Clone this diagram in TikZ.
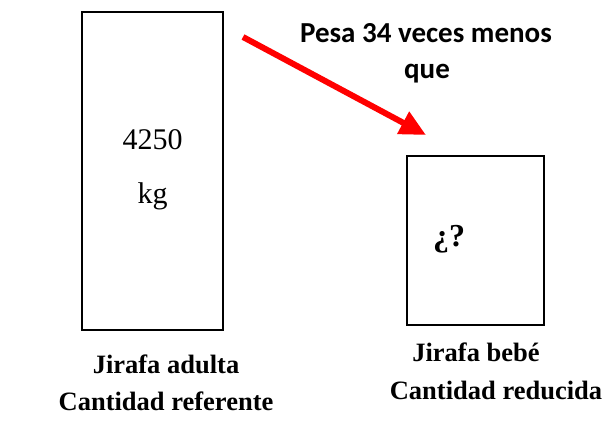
\documentclass[tikz,border=0pt]{standalone}
\usepackage{fontspec}
\setmainfont{Liberation Serif}
\newfontfamily\calib{Carlito}
\usetikzlibrary{arrows.meta}
\tikzset{
  box/.style={draw=black, line width=2.6bp},
  num/.style={font=\fontsize{30bp}{36bp}\selectfont, inner sep=0pt},
  lab/.style={font=\bfseries\fontsize{26.5bp}{37bp}\selectfont, inner sep=0pt},
  note/.style={font=\calib\bfseries\fontsize{29bp}{34bp}\selectfont, inner sep=0pt},
  redarrow/.style={draw=red, line width=6bp, -{Triangle[length=26bp,width=24bp]}}
}
\begin{document}
\begin{tikzpicture}[x=1bp,y=-1bp]
\useasboundingbox (0,0) rectangle (605,431);
\node[box, minimum width=141bp, minimum height=318bp, inner sep=0pt] (adult) at (152.5,171) {};
\node[box, minimum width=137bp, minimum height=169bp, inner sep=0pt] (baby) at (475.5,240.5) {};
\node[num, anchor=base] (w) at (152.5,149) {4250};
\node[num, anchor=base] (kg) at (152.5,203) {kg};
\node[font=\bfseries\fontsize{32bp}{36bp}\selectfont, inner sep=0pt, anchor=base] (q) at (449,246) {¿?};
\node[note, anchor=base] (pesa1) at (426,42) {Pesa 34 veces menos};
\node[note, anchor=base] (pesa2) at (427,78) {que};
\coordinate (tail) at (243,37);
\coordinate (tip) at (426,135);
\draw[redarrow] (tail) -- (tip);
\node[lab, anchor=base] (la1) at (166,373) {Jirafa adulta};
\node[lab, anchor=base] (la2) at (166,410) {Cantidad referente};
\node[lab, anchor=base] (lb1) at (476,361) {Jirafa bebé};
\node[lab, anchor=base] (lb2) at (496,399) {Cantidad reducida};
\end{tikzpicture}
\end{document}
